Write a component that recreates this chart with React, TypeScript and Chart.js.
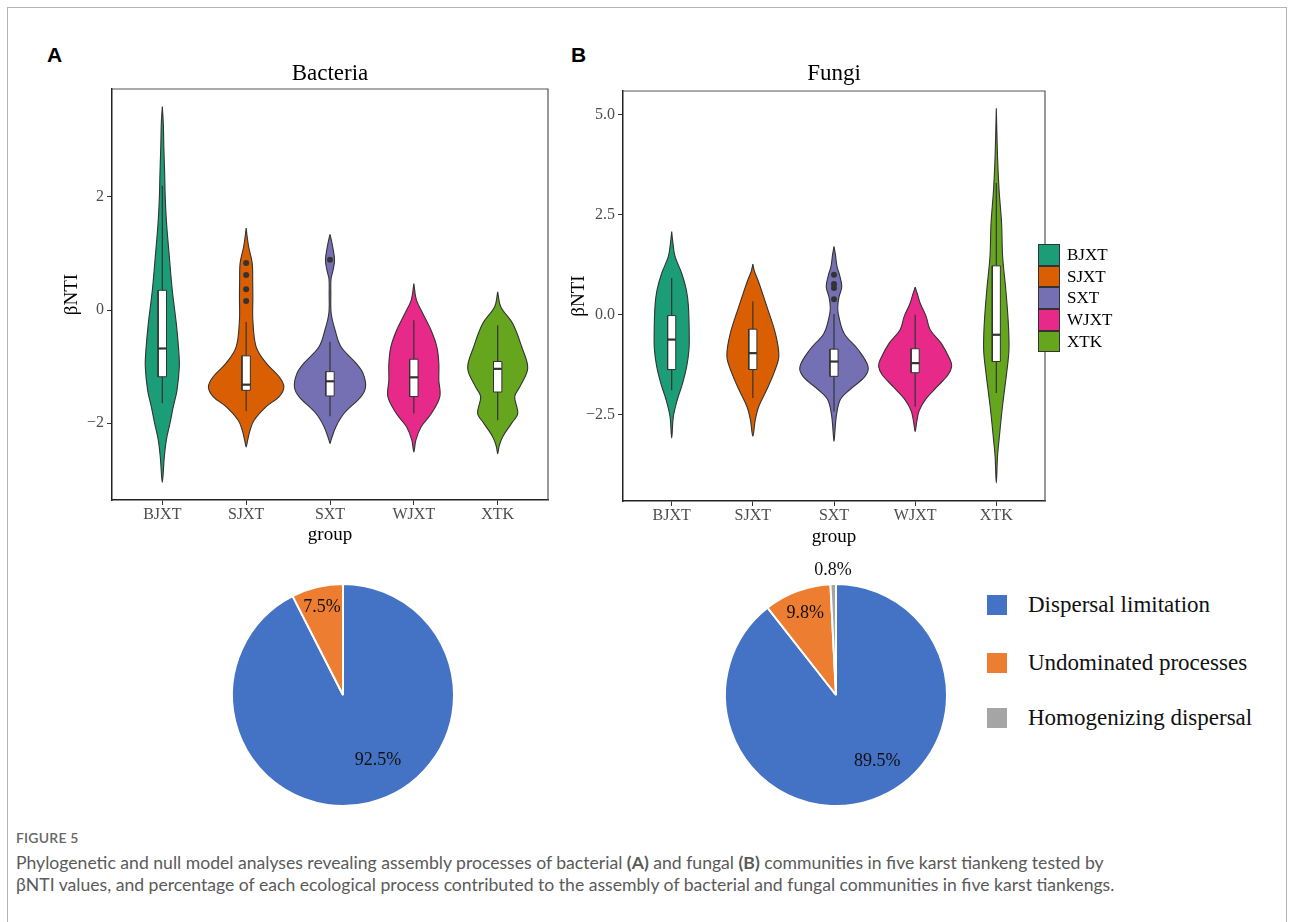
import React, { useEffect, useRef } from "react";
import { Chart, registerables } from "chart.js";

Chart.register(...registerables);

const SERIF = '"Liberation Serif", "Times New Roman", serif';
const SANS = 'Lato, "Open Sans", sans-serif';

const groups = ["BJXT", "SJXT", "SXT", "WJXT", "XTK"];
const groupColors = ["#1B9E77", "#D95F02", "#7570B3", "#E7298A", "#66A61E"];

// ---- Bacteria violin profiles: βNTI level (top→bottom) and half-width in group units
const bacBJXT_y = [3.6, 3.3, 2.9, 2.42, 2.0, 1.53, 0.94, 0.35, -0.24, -0.7, -1.0, -1.42, -1.71, -2.0, -2.3, -2.6, -3.05];
const bacBJXT_w = [0, 0.012, 0.018, 0.028, 0.035, 0.051, 0.084, 0.119, 0.167, 0.195, 0.203, 0.175, 0.131, 0.092, 0.048, 0.024, 0];
const bacSJXT_y = [1.45, 1.3, 1.12, 0.83, 0.5, 0.23, -0.18, -0.65, -0.94, -1.18, -1.36, -1.53, -1.71, -1.95, -2.12, -2.3, -2.42];
const bacSJXT_w = [0, 0.012, 0.03, 0.072, 0.078, 0.08, 0.08, 0.119, 0.239, 0.394, 0.45, 0.394, 0.239, 0.095, 0.048, 0.018, 0];
const bacSXT_y = [1.34, 1.18, 0.89, 0.7, 0.55, 0.3, -0.06, -0.35, -0.65, -0.94, -1.12, -1.36, -1.53, -1.83, -2.06, -2.3, -2.36];
const bacSXT_w = [0, 0.024, 0.054, 0.036, 0.012, 0.01, 0.014, 0.06, 0.131, 0.31, 0.394, 0.424, 0.37, 0.167, 0.072, 0.012, 0];
const bacWJXT_y = [0.47, 0.18, -0.06, -0.35, -0.65, -0.94, -1.24, -1.53, -1.83, -2.06, -2.3, -2.51];
const bacWJXT_w = [0, 0.03, 0.107, 0.203, 0.274, 0.298, 0.298, 0.31, 0.209, 0.089, 0.024, 0];
const bacXTK_y = [0.32, 0.06, -0.24, -0.65, -1.03, -1.36, -1.53, -1.83, -2.0, -2.24, -2.4, -2.54];
const bacXTK_w = [0, 0.036, 0.179, 0.286, 0.358, 0.263, 0.203, 0.239, 0.167, 0.06, 0.018, 0];

// ---- Bacteria box statistics
const bacLow = [-1.65, -1.79, -1.88, -1.83, -1.95];
const bacQ1 = [-1.18, -1.42, -1.52, -1.53, -1.45];
const bacMedian = [-0.68, -1.32, -1.26, -1.19, -1.04];
const bacQ3 = [0.35, -0.81, -1.09, -0.87, -0.91];
const bacHigh = [2.2, -0.21, -0.56, -0.18, -0.27];
const bacOutliers = [[], [0.83, 0.62, 0.37, 0.16], [0.89], [], []];

// ---- Fungi violin profiles
const funBJXT_y = [2.08, 1.8, 1.46, 1.04, 0.62, 0.21, -0.46, -0.87, -1.29, -1.71, -2.12, -2.54, -3.08];
const funBJXT_w = [0, 0.015, 0.041, 0.123, 0.181, 0.206, 0.216, 0.213, 0.185, 0.135, 0.07, 0.021, 0];
const funSJXT_y = [1.27, 1.1, 0.87, 0.55, 0.21, -0.46, -1.04, -1.46, -1.87, -2.29, -2.62, -3.04];
const funSJXT_w = [0, 0.018, 0.062, 0.117, 0.172, 0.277, 0.32, 0.259, 0.172, 0.074, 0.031, 0];
const funSXT_y = [1.71, 1.5, 1.21, 1.0, 0.7, 0.45, 0.21, 0, -0.46, -0.87, -1.29, -1.54, -1.87, -2.12, -2.54, -2.9, -3.17];
const funSXT_w = [0, 0.018, 0.037, 0.068, 0.096, 0.062, 0.046, 0.055, 0.123, 0.296, 0.419, 0.382, 0.197, 0.078, 0.028, 0.012, 0];
const funWJXT_y = [0.69, 0.5, 0.29, -0.04, -0.375, -0.71, -1.125, -1.29, -1.5, -1.8, -2.1, -2.4, -2.7, -2.92];
const funWJXT_w = [0, 0.031, 0.062, 0.135, 0.185, 0.32, 0.431, 0.45, 0.406, 0.271, 0.135, 0.049, 0.018, 0];
const funXTK_y = [5.17, 3.96, 3.125, 2.29, 1.46, 0.625, -0.21, -0.875, -1.46, -2.29, -3.125, -3.54, -4.21];
const funXTK_w = [0, 0.015, 0.034, 0.065, 0.078, 0.117, 0.148, 0.156, 0.127, 0.076, 0.034, 0.015, 0];

// ---- Fungi box statistics
const funLow = [-1.89, -2.08, -2.42, -2.3, -1.96];
const funQ1 = [-1.37, -1.37, -1.54, -1.45, -1.17];
const funMedian = [-0.62, -0.96, -1.17, -1.21, -0.5];
const funQ3 = [-0.02, -0.36, -0.86, -0.85, 1.225];
const funHigh = [0.92, 0.33, 0.02, 0.0, 3.3];
const funOutliers = [[], [], [1.0, 0.77, 0.67, 0.39], [], []];

// ---- Axis ticks
const bacYTicks = [-2, 0, 2];
const bacYLabels = ["\u22122", "0", "2"];
const funYTicks = [-2.5, 0, 2.5, 5];
const funYLabels = ["\u22122.5", "0.0", "2.5", "5.0"];

// ---- Pie data
const processLabels = ["Dispersal limitation", "Undominated processes", "Homogenizing dispersal"];
const processColors = ["#4472C4", "#ED7D31", "#A5A5A5"];
const bacPie = [92.5, 7.5];
const funPie = [89.5, 9.8, 0.8];

const BOX_HALF = 0.05;

function violinPoints(center: number, ys: number[], ws: number[]) {
  const right = ys.map((y, k) => ({ x: center + ws[k], y }));
  const left = ys.map((y, k) => ({ x: center - ws[k], y })).reverse();
  return [...right, ...left.slice(1)];
}

function buildDatasets(profiles: [number[], number[]][], low: number[], q1: number[], med: number[], q3: number[], high: number[], outliers: number[][]) {
  const ds: any[] = [];
  profiles.forEach(([ys, ws], i) => {
    ds.push({
      data: violinPoints(i, ys, ws),
      borderColor: "#333333",
      borderWidth: 1.1,
      backgroundColor: groupColors[i],
      fill: "shape",
      tension: 0.35,
      pointRadius: 0,
      borderJoinStyle: "round",
      order: 4,
    });
    ds.push({
      data: [{ x: i, y: low[i] }, { x: i, y: high[i] }],
      borderColor: "#333333",
      borderWidth: 1.2,
      pointRadius: 0,
      fill: false,
      order: 3,
    });
    ds.push({
      data: [
        { x: i - BOX_HALF, y: q1[i] },
        { x: i + BOX_HALF, y: q1[i] },
        { x: i + BOX_HALF, y: q3[i] },
        { x: i - BOX_HALF, y: q3[i] },
        { x: i - BOX_HALF, y: q1[i] },
      ],
      borderColor: "#333333",
      borderWidth: 1,
      backgroundColor: "#ffffff",
      fill: "shape",
      tension: 0,
      pointRadius: 0,
      order: 2,
    });
    ds.push({
      data: [{ x: i - BOX_HALF, y: med[i] }, { x: i + BOX_HALF, y: med[i] }],
      borderColor: "#333333",
      borderWidth: 2.2,
      pointRadius: 0,
      fill: false,
      order: 1,
    });
  });
  ds.push({
    data: outliers.flatMap((arr, i) => arr.map((y) => ({ x: i, y }))),
    showLine: false,
    pointRadius: 3,
    pointBackgroundColor: "#333333",
    pointBorderWidth: 0,
    order: 0,
  });
  return ds;
}

const panelBorder = {
  id: "panelBorder",
  beforeDatasetsDraw(chart: any) {
    const { ctx, chartArea: a } = chart;
    ctx.save();
    ctx.strokeStyle = "#555555";
    ctx.lineWidth = 1.2;
    ctx.beginPath();
    ctx.moveTo(a.left, a.top);
    ctx.lineTo(a.right, a.top);
    ctx.lineTo(a.right, a.bottom);
    ctx.stroke();
    ctx.restore();
  },
};

const pieLabelPlugin = {
  id: "pieLabels",
  afterDatasetsDraw(chart: any, _args: any, opts: any) {
    const { ctx } = chart;
    const meta = chart.getDatasetMeta(0);
    const values = chart.data.datasets[0].data;
    ctx.save();
    ctx.font = `18px ${SERIF}`;
    ctx.fillStyle = "#111111";
    ctx.textAlign = "center";
    ctx.textBaseline = "middle";
    meta.data.forEach((arc: any, i: number) => {
      const p = arc.getProps(["x", "y", "startAngle", "endAngle", "outerRadius"], true);
      const mid = (p.startAngle + p.endAngle) / 2 + ((opts.shifts && opts.shifts[i]) || 0) * Math.PI / 180;
      const r = p.outerRadius * opts.radii[i];
      ctx.fillText(values[i].toFixed(1) + "%", p.x + Math.cos(mid) * r, p.y + Math.sin(mid) * r);
    });
    ctx.restore();
  },
};

type ViolinProps = {
  title: string;
  profiles: [number[], number[]][];
  low: number[]; q1: number[]; med: number[]; q3: number[]; high: number[]; outliers: number[][];
  yMin: number; yMax: number; yTicks: number[]; yLabels: string[];
  left: number; width: number; height: number;
  padLeft: number; padRight: number; yWidth: number; xHeight: number;
  titleTop: number; titleBottom: number;
};

function ViolinChart(p: ViolinProps) {
  const ref = useRef<HTMLCanvasElement>(null);
  useEffect(() => {
    const tickFont = { family: SERIF, size: 16 };
    const chart = new Chart(ref.current as HTMLCanvasElement, {
      type: "line",
      data: { datasets: buildDatasets(p.profiles, p.low, p.q1, p.med, p.q3, p.high, p.outliers) },
      options: {
        animation: false,
        responsive: false,
        devicePixelRatio: 1,
        layout: { padding: { left: p.padLeft, right: p.padRight, top: 0, bottom: 0 } },
        plugins: {
          legend: { display: false },
          tooltip: { enabled: false },
          title: {
            display: true,
            text: p.title,
            fullSize: false,
            color: "#000000",
            font: { family: SERIF, size: 23, weight: "normal" },
            padding: { top: p.titleTop, bottom: p.titleBottom },
          },
        },
        scales: {
          x: {
            type: "linear",
            min: -0.6,
            max: 4.6,
            afterBuildTicks: (s: any) => { s.ticks = groups.map((_, i) => ({ value: i })); },
            afterFit: (s: any) => { s.height = p.xHeight; },
            ticks: {
              callback: (v: any) => groups[Math.round(Number(v))],
              font: tickFont,
              color: "#4D4D4D",
              padding: 0,
              autoSkip: false,
              maxRotation: 0,
            },
            grid: { drawOnChartArea: false, drawTicks: true, tickLength: 5, color: "#333333" },
            border: { color: "#222222", width: 1.5 },
            title: {
              display: true,
              text: "group",
              color: "#000000",
              font: { family: SERIF, size: 19 },
              padding: { top: 0, bottom: 4 },
            },
          },
          y: {
            type: "linear",
            min: p.yMin,
            max: p.yMax,
            afterBuildTicks: (s: any) => { s.ticks = p.yTicks.map((v) => ({ value: v })); },
            afterFit: (s: any) => { s.width = p.yWidth; },
            ticks: {
              callback: (v: any) => p.yLabels[p.yTicks.indexOf(Number(v))],
              font: tickFont,
              color: "#4D4D4D",
              padding: 3,
            },
            grid: { drawOnChartArea: false, drawTicks: true, tickLength: 5, color: "#333333" },
            border: { color: "#222222", width: 1.5 },
            title: {
              display: true,
              text: "\u03B2NTI",
              color: "#000000",
              font: { family: SERIF, size: 19 },
              padding: { top: 5, bottom: 0 },
            },
          },
        },
      } as any,
      plugins: [panelBorder],
    });
    return () => chart.destroy();
  }, []);
  return (
    <canvas
      ref={ref}
      width={p.width}
      height={p.height}
      style={{ position: "absolute", left: p.left, top: 0, width: p.width, height: p.height }}
    />
  );
}

function PieChart({ values, left, top, radii, shifts }: { values: number[]; left: number; top: number; radii: number[]; shifts: number[] }) {
  const ref = useRef<HTMLCanvasElement>(null);
  useEffect(() => {
    const chart = new Chart(ref.current as HTMLCanvasElement, {
      type: "pie",
      data: {
        labels: processLabels.slice(0, values.length),
        datasets: [
          {
            data: values,
            backgroundColor: processColors.slice(0, values.length),
            borderColor: "#ffffff",
            borderWidth: 2,
          },
        ],
      },
      options: {
        animation: false,
        responsive: false,
        devicePixelRatio: 1,
        radius: 111,
        plugins: {
          legend: { display: false },
          tooltip: { enabled: false },
          pieLabels: { radii, shifts },
        },
      } as any,
      plugins: [pieLabelPlugin],
    });
    return () => chart.destroy();
  }, []);
  return (
    <canvas
      ref={ref}
      width={300}
      height={300}
      style={{ position: "absolute", left, top, width: 300, height: 300 }}
    />
  );
}

export default function App() {
  const bacProfiles: [number[], number[]][] = [
    [bacBJXT_y, bacBJXT_w], [bacSJXT_y, bacSJXT_w], [bacSXT_y, bacSXT_w], [bacWJXT_y, bacWJXT_w], [bacXTK_y, bacXTK_w],
  ];
  const funProfiles: [number[], number[]][] = [
    [funBJXT_y, funBJXT_w], [funSJXT_y, funSJXT_w], [funSXT_y, funSXT_w], [funWJXT_y, funWJXT_w], [funXTK_y, funXTK_w],
  ];
  const captionStyle: React.CSSProperties = { position: "absolute", left: 16, font: `17.6px ${SANS}`, color: "#5a5a5a", lineHeight: "22px", whiteSpace: "nowrap" };
  return (
    <div style={{ position: "absolute", left: 0, top: 0, width: 1293, height: 922, overflow: "hidden", background: "#fff" }}>
      <div style={{ position: "absolute", left: 7, top: 7, width: 1278, height: 960, border: "1px solid #b4b4b4" }} />

      <div style={{ position: "absolute", left: 47, top: 43, font: `bold 21px "Liberation Sans", Arial, sans-serif`, lineHeight: "24px" }}>A</div>
      <div style={{ position: "absolute", left: 571, top: 43, font: `bold 21px "Liberation Sans", Arial, sans-serif`, lineHeight: "24px" }}>B</div>

      <ViolinChart
        title="Bacteria" profiles={bacProfiles}
        low={bacLow} q1={bacQ1} med={bacMedian} q3={bacQ3} high={bacHigh} outliers={bacOutliers}
        yMin={-3.36} yMax={3.91} yTicks={bacYTicks} yLabels={bacYLabels}
        left={0} width={560} height={550} padLeft={56} padRight={12} yWidth={56} xHeight={50}
        titleTop={60} titleBottom={1.4}
      />
      <ViolinChart
        title="Fungi" profiles={funProfiles}
        low={funLow} q1={funQ1} med={funMedian} q3={funQ3} high={funHigh} outliers={funOutliers}
        yMin={-4.66} yMax={5.6} yTicks={funYTicks} yLabels={funYLabels}
        left={560} width={490} height={552} padLeft={3} padRight={5} yWidth={60} xHeight={51}
        titleTop={60} titleBottom={3.4}
      />

      <div style={{ position: "absolute", left: 1038, top: 244 }}>
        {groups.map((g, i) => (
          <div key={g} style={{ display: "flex", alignItems: "center", height: 21.7 }}>
            <div style={{ width: 22, height: 21.7, background: groupColors[i], border: "1px solid #333", boxSizing: "border-box" }} />
            <span style={{ marginLeft: 7, font: `17px ${SERIF}`, color: "#000" }}>{g}</span>
          </div>
        ))}
      </div>

      <PieChart values={bacPie} left={193} top={544.5} radii={[0.67, 0.81]} shifts={[-14.6, 0]} />
      <PieChart values={funPie} left={686} top={544.5} radii={[0.7, 0.79, 1.12]} shifts={[-13, 0, 0]} />

      <div style={{ position: "absolute", left: 987, top: 594 }}>
        {processLabels.map((l, i) => (
          <div key={l} style={{ display: "flex", alignItems: "center", height: 22, marginBottom: i === 0 ? 36 : 33 }}>
            <div style={{ width: 20, height: 20, background: processColors[i] }} />
            <span style={{ marginLeft: 21, font: `23px ${SERIF}`, color: "#111", whiteSpace: "nowrap" }}>{l}</span>
          </div>
        ))}
      </div>

      <div style={{ position: "absolute", left: 16, top: 830, font: `600 14px ${SANS}`, color: "#666", lineHeight: "16px", letterSpacing: "0.2px" }}>FIGURE 5</div>
      <div style={{ ...captionStyle, top: 852 }}>
        Phylogenetic and null model analyses revealing assembly processes of bacterial <b>(A)</b> and fungal <b>(B)</b> communities in five karst tiankeng tested by
      </div>
      <div style={{ ...captionStyle, top: 874 }}>
        {"\u03B2NTI values, and percentage of each ecological process contributed to the assembly of bacterial and fungal communities in five karst tiankengs."}
      </div>
    </div>
  );
}
